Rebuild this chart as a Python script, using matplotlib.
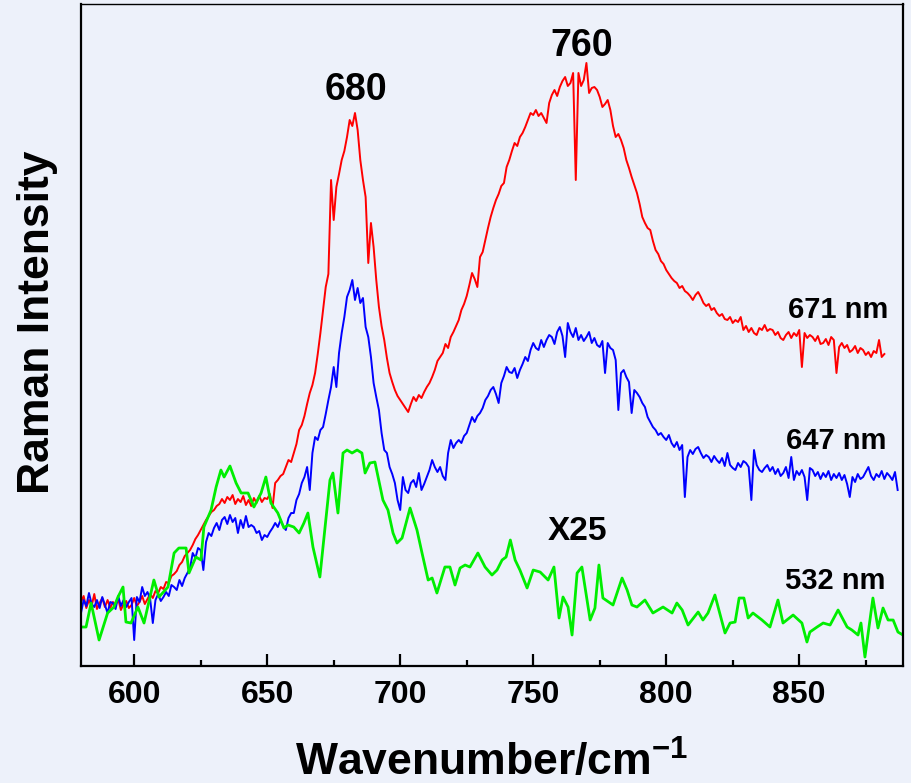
import numpy as np
import matplotlib
matplotlib.use("Agg")
import matplotlib.pyplot as plt

plt.rcParams['font.family'] = ['Liberation Sans', 'DejaVu Sans']
plt.rcParams['font.weight'] = 'bold'
plt.rcParams['mathtext.fontset'] = 'custom'
plt.rcParams['mathtext.rm'] = 'Liberation Sans:bold'
plt.rcParams['mathtext.it'] = 'Liberation Sans:bold'
plt.rcParams['mathtext.bf'] = 'Liberation Sans:bold'

# wavenumber grids (cm^-1)
x_671 = np.arange(580, 883)
x_647 = np.arange(580, 888)

# 671 nm excitation, one value per cm^-1
i_671 = [
    64, 70, 58, 66, 60, 72, 57, 63, 68, 59,
    66, 58, 64, 61, 67, 56, 62, 65, 58, 61,
    68, 60, 64, 70, 62, 67, 72, 68, 75, 73,
    79, 77, 84, 83, 90, 92, 95, 101, 104, 110,
    113, 116, 121, 127, 131, 136, 141, 146, 150, 154,
    156, 160, 162, 167, 163, 169, 166, 171, 162, 167,
    164, 170, 161, 166, 160, 168, 163, 170, 164, 168,
    167, 172, 158, 183, 186, 190, 192, 199, 206, 204,
    213, 222, 236, 241, 250, 262, 273, 281, 293, 312,
    333, 356, 379, 392, 486, 446, 479, 492, 506, 515,
    529, 546, 540, 553, 536, 506, 486, 469, 403, 443,
    419, 386, 359, 340, 326, 308, 293, 284, 276, 270,
    266, 262, 258, 254, 262, 269, 265, 271, 268, 274,
    279, 283, 289, 296, 305, 309, 313, 322, 318, 329,
    334, 340, 346, 356, 362, 370, 381, 393, 387, 379,
    409, 414, 426, 438, 449, 458, 466, 472, 480, 483,
    499, 506, 515, 523, 520, 529, 533, 539, 546, 553,
    551, 556, 550, 553, 548, 543, 563, 571, 576, 570,
    579, 585, 589, 580, 583, 593, 486, 593, 580, 586,
    603, 573, 578, 579, 576, 569, 559, 562, 566, 556,
    540, 529, 532, 526, 518, 506, 498, 489, 481, 473,
    462, 449, 443, 438, 436, 425, 416, 412, 405, 402,
    396, 392, 388, 385, 383, 378, 380, 375, 373, 370,
    366, 371, 374, 369, 363, 360, 362, 356, 358, 353,
    350, 352, 347, 346, 349, 343, 346, 344, 349, 336,
    340, 334, 338, 333, 331, 338, 336, 341, 335, 337,
    336, 331, 334, 328, 326, 331, 334, 328, 333, 330,
    336, 299, 333, 328, 331, 329, 325, 330, 322, 323,
    327, 321, 329, 326, 293, 319, 323, 318, 321, 314,
    316, 320, 313, 318, 316, 311, 314, 309, 315, 313,
    326, 309, 312,
]

# 647 nm excitation
i_647 = [
    53, 66, 60, 73, 62, 59, 66, 58, 69, 61,
    53, 64, 63, 57, 70, 60, 66, 59, 64, 68,
    26, 69, 64, 79, 70, 74, 67, 43, 66, 72,
    65, 69, 74, 70, 81, 79, 76, 86, 80, 88,
    93, 98, 113, 108, 118, 116, 96, 124, 133, 130,
    138, 143, 136, 146, 149, 142, 151, 144, 148, 133,
    146, 138, 150, 139, 141, 139, 133, 135, 126, 131,
    129, 134, 138, 143, 139, 146, 140, 136, 148, 153,
    153, 166, 172, 183, 189, 199, 176, 213, 229, 226,
    236, 239, 252, 266, 279, 299, 279, 313, 333, 349,
    369, 376, 386, 366, 378, 363, 368, 339, 329, 309,
    283, 269, 256, 233, 216, 213, 199, 192, 183, 166,
    156, 189, 176, 173, 183, 186, 179, 193, 176, 182,
    189, 196, 206, 199, 194, 199, 190, 186, 213, 226,
    218, 223, 226, 223, 230, 233, 241, 249, 244, 250,
    253, 258, 266, 270, 276, 279, 272, 263, 283, 290,
    299, 294, 293, 298, 288, 296, 302, 309, 305, 316,
    323, 318, 316, 326, 319, 326, 331, 329, 322, 334,
    339, 330, 309, 343, 334, 329, 338, 326, 331, 325,
    329, 334, 323, 328, 321, 319, 325, 293, 323, 318,
    316, 306, 256, 293, 296, 289, 284, 253, 276, 273,
    269, 263, 259, 249, 244, 239, 236, 231, 233, 229,
    226, 231, 223, 219, 224, 216, 221, 169, 209, 216,
    212, 217, 219, 213, 208, 211, 209, 204, 210, 206,
    203, 208, 200, 213, 201, 198, 196, 203, 199, 205,
    203, 199, 166, 216, 201, 196, 194, 198, 201, 195,
    199, 192, 197, 190, 193, 199, 188, 209, 186, 195,
    191, 196, 189, 166, 198, 196, 190, 194, 187, 193,
    189, 195, 186, 192, 188, 193, 186, 191, 182, 169,
    189, 184, 192, 187, 189, 194, 199, 190, 186, 192,
    189, 195, 187, 193, 190, 186, 194, 176,
]

# 532 nm excitation (x25), coarser sampling
x_532 = [
    580, 581.9, 583.8, 586.8, 590, 592.4, 593.9, 595.8, 596.9, 598.8,
    601.4, 603.7, 607.4, 609.3, 612.7, 615, 616.8, 619.5, 620.6, 623.2,
    625.1, 626.2, 628.9, 630.8, 632.6, 633.8, 636, 638.3, 640.2, 642.8,
    645, 647.7, 649.5, 651.4, 654, 656.3, 657.8, 660, 662, 663.8,
    665.3, 667.2, 669.8, 673.6, 674.7, 676.6, 678.5, 680, 681.9, 683.8,
    685.6, 686.8, 688.6, 690.5, 693.5, 695.4, 697.3, 698.8, 700.7, 703.7,
    706.3, 708.2, 710.5, 712, 713.8, 716.8, 718.7, 720.6, 722.5, 724.4,
    726.2, 729.2, 731.9, 734.5, 736.4, 738.3, 739.8, 741.4, 743.2, 745,
    747.7, 750, 752.6, 755.6, 757.8, 759.7, 761.2, 763.1, 764.6, 766.5,
    768.3, 771.4, 773.2, 774.7, 776.2, 780, 783.4, 785.3, 787.1, 789,
    792, 795, 798.8, 802.2, 804, 806, 808.2, 812, 813.8, 815.7,
    818.3, 819.5, 822.1, 824, 825.9, 827.4, 829.2, 830.8, 832.6, 836,
    839, 842, 843.9, 847.7, 851, 852.9, 854, 856.7, 859, 861.6,
    864.6, 868, 869.8, 872.1, 873.2, 874.7, 877.7, 879.6, 881.5, 883.4,
    885.3, 887.1, 889,
]
i_532 = [
    39, 39, 63, 26, 53, 59, 69, 79, 44, 43,
    59, 43, 86, 69, 79, 113, 118, 118, 93, 109,
    106, 139, 156, 179, 196, 189, 200, 183, 173, 173,
    159, 173, 189, 163, 153, 138, 141, 139, 133, 143,
    153, 119, 89, 186, 193, 153, 213, 216, 213, 216,
    213, 193, 203, 204, 166, 156, 133, 123, 128, 158,
    136, 113, 86, 88, 73, 99, 99, 81, 98, 101,
    99, 113, 99, 91, 96, 106, 109, 126, 106, 96,
    78, 96, 94, 86, 99, 48, 69, 59, 31, 93,
    99, 46, 58, 101, 68, 61, 88, 76, 61, 59,
    66, 53, 59, 53, 63, 56, 41, 54, 46, 53,
    71, 59, 33, 43, 44, 68, 68, 48, 53, 46,
    39, 66, 43, 51, 43, 24, 34, 39, 43, 41,
    56, 39, 36, 31, 43, 9, 68, 38, 58, 46,
    46, 34, 31,
]

bg = '#EDF1FA'
fig = plt.figure(figsize=(9.11, 7.83), dpi=100, facecolor=bg)
ax = fig.add_axes([0.0889, 0.1494, 0.9023, 0.8455], facecolor=bg)

ax.plot(x_671, i_671, color='#FF0000', lw=1.4)
ax.plot(x_647, i_647, color='#0000FF', lw=1.4)
ax.plot(x_532, i_532, color='#00EE00', lw=2.0)

ax.set_xlim(580, 889)
ax.set_ylim(0, 662)
ax.set_xticks([600, 650, 700, 750, 800, 850])
ax.set_xticks([625, 675, 725, 775, 825, 875], minor=True)
ax.set_yticks([])
ax.tick_params(axis='x', which='major', direction='in', length=9, width=1.6,
               labelsize=23, pad=10)
ax.tick_params(axis='x', which='minor', direction='in', length=4.5, width=1.6)
for s in ax.spines.values():
    s.set_linewidth(1.6)
ax.spines['top'].set_linewidth(1.0)

ax.set_xlabel('Wavenumber/cm$^{-1}$', fontsize=32, fontweight='bold', labelpad=22)
ax.set_ylabel('Raman Intensity', fontsize=32, fontweight='bold')
ax.yaxis.set_label_coords(-0.028, 0.52)

ax.text(683.2, 566, '680', fontsize=27, fontweight='bold', ha='center', va='baseline')
ax.text(768.2, 610, '760', fontsize=27, fontweight='bold', ha='center', va='baseline')
ax.text(766.7, 126, 'X25', fontsize=24, fontweight='bold', ha='center', va='baseline')
ax.text(883.4, 348, '671 nm', fontsize=21, fontweight='bold', ha='right', va='baseline')
ax.text(882.8, 217, '647 nm', fontsize=21, fontweight='bold', ha='right', va='baseline')
ax.text(882.3, 77, '532 nm', fontsize=21, fontweight='bold', ha='right', va='baseline')

fig.savefig('out.png', dpi=100, facecolor=bg)
